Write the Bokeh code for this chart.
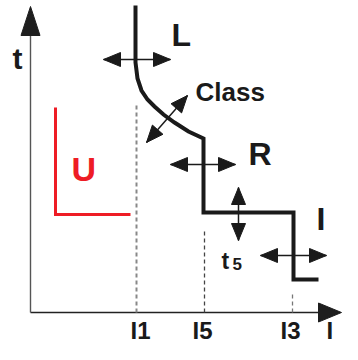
import numpy as np
from bokeh.plotting import figure
from bokeh.models import Range1d, ColumnDataSource
from bokeh.core.properties import value
from bokeh.embed import file_html
from bokeh.resources import INLINE

# ---------------- data (schematic units: current I, time t) ----------------
# trip characteristic L - R - I
trip_I = [105, 105, 107, 111, 117, 124, 133, 144, 158, 173, 173, 263, 263, 288]
trip_t = [307, 250, 234, 222, 213, 206, 198, 190, 181, 174, 100, 100, 33, 33]

# undervoltage (U) characteristic
u_I = [25, 25, 100]
u_t = [205, 98, 98]

# thresholds on the current axis
tick_names = ["I1", "I5", "I3"]
tick_I = [106, 174, 262]
tick_top = [210, 82, 20]

# adjustment arrows (start / end)
adj_names = ["L", "Class", "R", "t5", "I"]
adj_I0 = [73, 116, 140, 208, 230]
adj_t0 = [253, 170, 148, 125, 57]
adj_I1 = [140, 157, 205, 208, 296]
adj_t1 = [253, 217, 148, 72, 57]

# axes extent
axis_I_end = 311
axis_t_end = 306

# text labels (vertical centre of the letters)
lab_text = ["t", "L", "Class", "R", "I", "t", "5"]
lab_I = [-18, 141, 165, 218, 286, 191, 202]
lab_t = [254.5, 278, 221, 158.5, 93.5, 51.5, 48.5]
lab_size = ["30px", "32px", "26px", "32px", "32px", "23px", "17px"]

# ---------------- figure ----------------
p = figure(width=342, height=344, x_range=Range1d(-30, 312), y_range=Range1d(-32, 312),
           x_axis_type=None, y_axis_type=None, output_backend="svg",
           toolbar_location=None, min_border=0)
p.outline_line_color = None
p.background_fill_color = "white"


def head(xt, yt, dx, dy, length, width):
    n = np.hypot(dx, dy)
    ux, uy = dx / n, dy / n
    bx, by = xt - ux * length, yt - uy * length
    px, py = -uy * width / 2, ux * width / 2
    return [xt, bx + px, bx - px], [yt, by + py, by - py]


# axes
p.segment(x0=[0, 0], y0=[0, 0], x1=[axis_I_end - 10, 0], y1=[0, axis_t_end - 10],
          line_color=["#222222", "#555555"], line_width=1.4)
hx, hy = [], []
a, b = head(axis_I_end, 0, 1, 0, 23, 19); hx.append(a); hy.append(b)
a, b = head(0, axis_t_end, 0, 1, 29, 19); hx.append(a); hy.append(b)
p.patches(xs=hx, ys=hy, fill_color="#1e1e1e", line_color="#1e1e1e", line_width=1)

# dashed threshold lines
p.segment(x0=tick_I, y0=[0] * 3, x1=tick_I, y1=tick_top,
          line_color=["#888888", "#444444", "#777777"], line_width=[2, 1.3, 1.3],
          line_dash="4 3")

# characteristics
p.line(u_I, u_t, line_color="#ee1c25", line_width=3, line_join="miter")
p.line(trip_I, trip_t, line_color="#1a1a1a", line_width=4, line_join="miter")

# adjustment arrows
p.segment(x0=adj_I0, y0=adj_t0, x1=adj_I1, y1=adj_t1, line_color="#1a1a1a", line_width=1.5)
ax, ay = [], []
for x0, y0, x1, y1 in zip(adj_I0, adj_t0, adj_I1, adj_t1):
    a, b = head(x1, y1, x1 - x0, y1 - y0, 17, 14); ax.append(a); ay.append(b)
    a, b = head(x0, y0, x0 - x1, y0 - y1, 17, 14); ax.append(a); ay.append(b)
p.patches(xs=ax, ys=ay, fill_color="#1a1a1a", line_color="#1a1a1a", line_width=1)

# labels
src = ColumnDataSource(dict(x=lab_I, y=lab_t, text=lab_text, size=lab_size))
p.text(x="x", y="y", text="text", source=src, text_font=value("Liberation Sans"),
       text_font_style="bold", text_font_size="size", text_align="left",
       text_baseline="middle", text_color="#1a1a1a")

# tick labels (current axis)
tick_dx = [-6, -12, -12]
tsrc = ColumnDataSource(dict(x=[i + d for i, d in zip(tick_I, tick_dx)] + [296],
                             y=[-18] * 4, text=tick_names + ["I"]))
p.text(x="x", y="y", text="text", source=tsrc, text_font=value("Liberation Sans"),
       text_font_style="bold", text_font_size="24px", text_align="left",
       text_baseline="middle", text_color="#1a1a1a")

# U label
p.text(x=[41], y=[144], text=["U"], text_font=value("Liberation Sans"),
       text_font_style="bold", text_font_size="34px", text_align="left",
       text_baseline="middle", text_color="#ee1c25")

open("out.html", "w").write(file_html(p, INLINE))
